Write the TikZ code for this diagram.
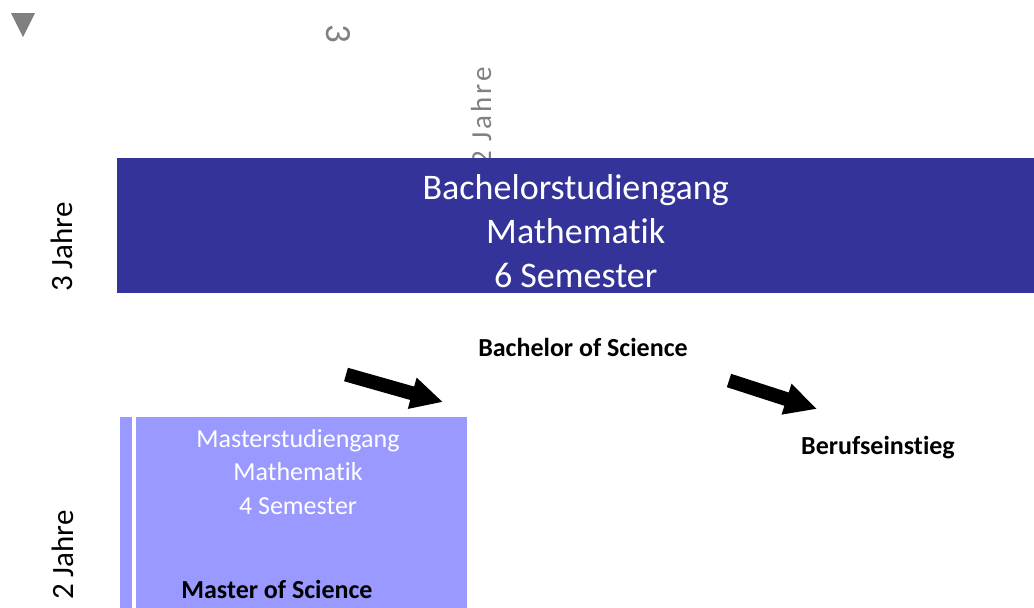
\documentclass[tikz,border=0pt]{standalone}
\usepackage[dvipsnames]{xcolor}
\usepackage{fontspec}
\setmainfont[Ligatures={NoCommon}]{Carlito}
\usepackage{tikz}
\usetikzlibrary{arrows.meta}
\definecolor{bscblue}{HTML}{343399}
\definecolor{mscblue}{HTML}{9999FF}
\definecolor{yeargray}{HTML}{808080}

\begin{document}
\begin{tikzpicture}[x=1pt, y=-1pt,
        boxtext/.style={align=center, text=white, inner sep=0pt},
        degreetext/.style={inner sep=0pt, font=\fontsize{26}{30}\selectfont\bfseries},
        years/.style={rotate=90, inner sep=0pt, font=\fontsize{31}{36}\selectfont},
        bigarrow/.style={line width=14pt, -{Triangle[length=32pt, width=30pt]}}]

        \useasboundingbox (0,0) rectangle (1034,608);

        % gray marks, partly hidden by the bachelor box
        \fill[yeargray] (11,13) -- (35,13) -- (23,37) -- cycle;
        \node[rotate=-90, inner sep=0pt, text=yeargray, font=\fontsize{37}{40}\selectfont] (graythree) at (338,34) {3};
        \node[years, text=yeargray, font=\fontsize{29}{30}\selectfont\addfontfeatures{LetterSpace=10}, anchor=base east] (grayyears) at (491,67) {2 Jahre};

        \node[fill=bscblue, minimum width=917pt, minimum height=135pt, inner sep=0pt, anchor=north west] (bscbox) at (117,158) {};
        \node[boxtext, font=\fontsize{36}{44}\selectfont] (bsctext) at ([yshift=-5pt]bscbox.center) {Bachelorstudiengang\\Mathematik\\6 Semester};
        \node[years, anchor=base west] (bscyears) at (72,292) {3 Jahre};

        \node[degreetext] (bsc) at (583,347) {Bachelor of Science};
        \node[degreetext] (job) at (878,448) {Berufseinstieg};

        \node[fill=mscblue, minimum width=347pt, minimum height=191pt, inner sep=0pt, anchor=north west] (mscbox) at (120,417) {};
        \draw[white, line width=3.5pt] ([xshift=14pt]mscbox.north west) -- ([xshift=14pt]mscbox.south west);
        \node[boxtext, font=\fontsize{26}{33.5}\selectfont] (msctext) at (298,472) {Masterstudiengang\\Mathematik\\4 Semester};
        \node[degreetext] (msc) at (277,589) {Master of Science};
        \node[years, anchor=base west] (mscyears) at (73,600) {2 Jahre};

        \coordinate (msctail) at (346,374.5);
        \coordinate (msctip) at (443,402);
        \coordinate (jobtail) at (729,380.5);
        \coordinate (jobtip) at (817,409);
        \draw[bigarrow] (msctail) -- (msctip);
        \draw[bigarrow] (jobtail) -- (jobtip);

\end{tikzpicture}
\end{document}
